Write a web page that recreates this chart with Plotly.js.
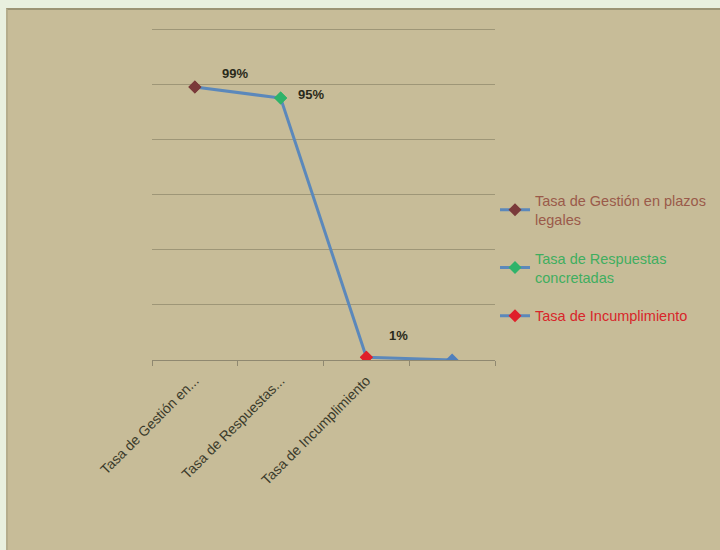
<!DOCTYPE html>
<html>
<head>
<meta charset="utf-8">
<script src="https://cdn.plot.ly/plotly-3.0.1.min.js"></script>
<style>
  html, body { margin: 0; padding: 0; background: #e9f0df; width: 720px; height: 550px; overflow: hidden; }
  #chart { position: absolute; left: 6px; top: 8px; width: 714px; height: 542px; border-top: 2px solid #9c9475; border-left: 2px solid #b5ad8c; box-sizing: border-box; }
</style>
</head>
<body>
<div id="chart"></div>
<script>
// Data
var categories = ["Tasa de Gestión en...", "Tasa de Respuestas...", "Tasa de Incumplimiento", " "];
var values = [0.99, 0.95, 0.01, 0.0];
var valueLabels = ["99%", "95%", "1%"];
var legendNames = [
  "Tasa de Gestión en plazos<br>legales",
  "Tasa de Respuestas<br>concretadas",
  "Tasa de Incumplimiento"
];

// Styles
var pointColors = ["#7a3a3a", "#2fb36a", "#e0202a", "#4f7fbd"];
var legendTextColors = ["#9a5a4a", "#3fae5f", "#d8262a"];
var labelOffsets = [[40, 14], [30, 4], [32, 22]];
var FONT = "Liberation Sans, Arial, sans-serif";

var traces = [];
// main line
traces.push({
  x: categories,
  y: values,
  type: "scatter",
  mode: "lines+markers",
  line: { color: "#5b88bb", width: 3 },
  marker: { symbol: "diamond", size: 10, color: pointColors },
  showlegend: false,
  hoverinfo: "skip"
});
// legend traces, each drawing its own point
for (var i = 0; i < legendNames.length; i++) {
  traces.push({
    x: [categories[i]],
    y: [values[i]],
    type: "scatter",
    mode: "lines+markers",
    legendgroup: "g" + i,
    name: '<span style="color:' + legendTextColors[i] + '">' + legendNames[i] + '</span>',
    line: { color: "#5b88bb", width: 3 },
    marker: { symbol: "diamond", size: 10, color: pointColors[i] }
  });
}

var annotations = [];
for (var j = 0; j < valueLabels.length; j++) {
  annotations.push({
    x: categories[j], y: values[j], xref: "x", yref: "y",
    text: "<b>" + valueLabels[j] + "</b>",
    showarrow: false,
    xshift: labelOffsets[j][0], yshift: labelOffsets[j][1],
    font: { family: FONT, size: 13, color: "#2a2a1a" }
  });
}

var layout = {
  width: 712,
  height: 540,
  paper_bgcolor: "#c7bc98",
  plot_bgcolor: "#c7bc98",
  margin: { l: 144, r: 225, t: 18, b: 190 },
  showlegend: true,
  font: { family: FONT, color: "#3a3a2a" },
  annotations: annotations,
  legend: {
    xref: "container", yref: "container",
    x: 0.684, xanchor: "left", y: 0.677, yanchor: "top",
    bgcolor: "rgba(0,0,0,0)",
    font: { size: 14.5, family: FONT },
    tracegroupgap: 17,
    itemwidth: 30
  },
  xaxis: {
    type: "category",
    categoryorder: "array",
    categoryarray: categories,
    range: [-0.5, 3.5],
    tickangle: -45,
    tickfont: { size: 14, color: "#3a3a2a", family: FONT },
    ticklabelstandoff: 6,
    showgrid: false,
    showline: true,
    linecolor: "#8f8870",
    linewidth: 1,
    ticks: "outside",
    tickson: "boundaries",
    ticklen: 5,
    tickcolor: "#8f8870",
    zeroline: false
  },
  yaxis: {
    range: [0, 1.204],
    dtick: 0.2,
    showticklabels: false,
    showgrid: true,
    gridcolor: "#9e9677",
    gridwidth: 1,
    zeroline: false,
    showline: false
  }
};

Plotly.newPlot("chart", traces, layout, { displayModeBar: false, staticPlot: true });
</script>
</body>
</html>
